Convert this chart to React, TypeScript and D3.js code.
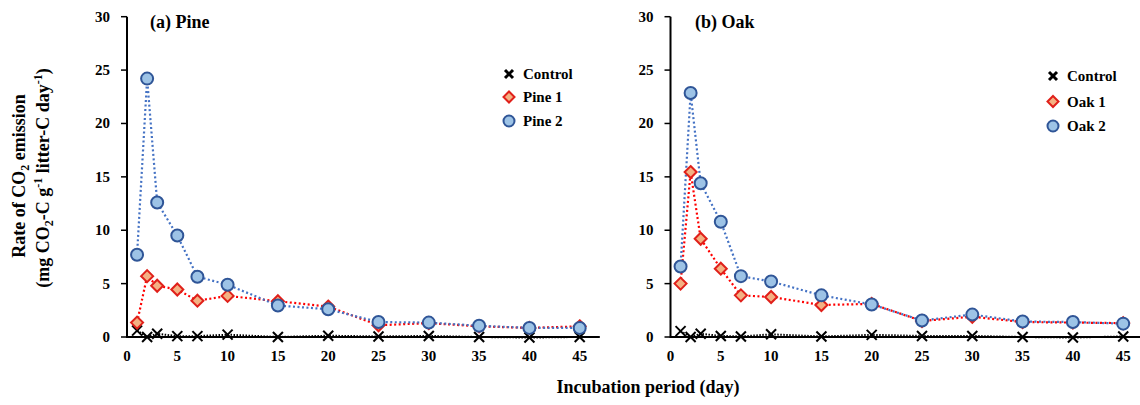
import React from "react";
import * as d3 from "d3";

const days = [1, 2, 3, 5, 7, 10, 15, 20, 25, 30, 35, 40, 45];
const pineControl = [0.6, 0.0, 0.3, 0.08, 0.08, 0.22, 0.0, 0.12, 0.05, 0.1, 0.0, -0.05, 0.0];
const pine1 = [1.35, 5.7, 4.8, 4.45, 3.4, 3.85, 3.35, 2.85, 1.1, 1.3, 1.0, 0.85, 1.0];
const pine2 = [7.7, 24.2, 12.6, 9.5, 5.65, 4.9, 2.95, 2.6, 1.4, 1.35, 1.05, 0.85, 0.85];
const oakControl = [0.55, 0.0, 0.3, 0.1, 0.05, 0.25, 0.05, 0.2, 0.1, 0.1, 0.0, -0.05, 0.05];
const oak1 = [5.0, 15.45, 9.2, 6.4, 3.9, 3.75, 3.0, 3.1, 1.5, 1.9, 1.4, 1.35, 1.3];
const oak2 = [6.6, 22.85, 14.4, 10.8, 5.7, 5.2, 3.9, 3.05, 1.55, 2.1, 1.45, 1.4, 1.25];
const xTicks = [0, 5, 10, 15, 20, 25, 30, 35, 40, 45];
const yTicks = [0, 5, 10, 15, 20, 25, 30];

const FONT = "'Liberation Serif', 'Times New Roman', serif";
const BLUE_LINE = "#4472C4";
const BLUE_FILL = "#9DC3E6";
const BLUE_STROKE = "#2F5597";
const RED_LINE = "#FF0000";
const RED_STROKE = "#E0201A";
const ORANGE_FILL = "#F4B183";

type PanelProps = {
  x0: number;
  title: string;
  titleX: number;
  control: number[];
  s1: number[];
  s2: number[];
  names: string[];
  legendX: number;
  legendY: number[];
};

function XMark({ cx, cy, s }: { cx: number; cy: number; s: number }) {
  return (
    <g stroke="#000" strokeWidth={2}>
      <line x1={cx - s} y1={cy - s} x2={cx + s} y2={cy + s} />
      <line x1={cx - s} y1={cy + s} x2={cx + s} y2={cy - s} />
    </g>
  );
}

function Diamond({ cx, cy, r }: { cx: number; cy: number; r: number }) {
  return (
    <path
      d={`M${cx},${cy - r}L${cx + r},${cy}L${cx},${cy + r}L${cx - r},${cy}Z`}
      fill={ORANGE_FILL}
      stroke={RED_STROKE}
      strokeWidth={2}
    />
  );
}

function Circle({ cx, cy, r }: { cx: number; cy: number; r: number }) {
  return <circle cx={cx} cy={cy} r={r} fill={BLUE_FILL} stroke={BLUE_STROKE} strokeWidth={2} />;
}

function Panel({ x0, title, titleX, control, s1, s2, names, legendX, legendY }: PanelProps) {
  const x = d3.scaleLinear().domain([0, 47]).range([x0, x0 + 47 * 10.06]);
  const y = d3.scaleLinear().domain([0, 30]).range([337, 16.7]);
  const line = (vals: number[]) =>
    d3
      .line<number>()
      .x((_, i) => x(days[i]))
      .y((v) => y(v))(vals) as string;

  return (
    <g fontFamily={FONT} fontWeight="bold">
      <line x1={x(0)} y1={y(0)} x2={x(47)} y2={y(0)} stroke="#000" strokeWidth={2} />
      <line x1={x(0)} y1={y(0) + 1} x2={x(0)} y2={y(30)} stroke="#000" strokeWidth={2} />
      {yTicks.map((t) => (
        <g key={"y" + t}>
          <line x1={x(0) - 6} y1={y(t)} x2={x(0)} y2={y(t)} stroke="#000" strokeWidth={1.5} />
          <text x={x(0) - 17} y={y(t) + 5} textAnchor="end" fontSize={15} fill="#000">
            {t}
          </text>
        </g>
      ))}
      {xTicks.map((t) => (
        <text key={"x" + t} x={x(t)} y={361} textAnchor="middle" fontSize={15} fill="#000">
          {t}
        </text>
      ))}
      <path d={line(control)} fill="none" stroke="#000" strokeWidth={2} strokeDasharray="1.5,1.5" />
      <path d={line(s1)} fill="none" stroke={RED_LINE} strokeWidth={2.2} strokeDasharray="2,2.5" />
      <path d={line(s2)} fill="none" stroke={BLUE_LINE} strokeWidth={2.2} strokeDasharray="2,2.5" />
      {control.map((v, i) => (
        <XMark key={"c" + i} cx={x(days[i])} cy={y(v)} s={5} />
      ))}
      {s1.map((v, i) => (
        <Diamond key={"d" + i} cx={x(days[i])} cy={y(v)} r={6} />
      ))}
      {s2.map((v, i) => (
        <Circle key={"o" + i} cx={x(days[i])} cy={y(v)} r={6} />
      ))}
      <text x={titleX} y={28} fontSize={18} fill="#000">
        {title}
      </text>
      <g>
        <g stroke="#000" strokeWidth={3}>
          <line x1={legendX - 4} y1={legendY[0] - 4} x2={legendX + 4} y2={legendY[0] + 4} />
          <line x1={legendX - 4} y1={legendY[0] + 4} x2={legendX + 4} y2={legendY[0] - 4} />
        </g>
        <Diamond cx={legendX} cy={legendY[1]} r={5.5} />
        <Circle cx={legendX} cy={legendY[2]} r={5.5} />
        {names.map((n, i) => (
          <text key={n} x={legendX + 14} y={legendY[i] + 5} fontSize={15} fill="#000">
            {n}
          </text>
        ))}
      </g>
    </g>
  );
}

export default function App() {
  return (
    <svg
      width={1140}
      height={405}
      style={{ position: "absolute", left: 0, top: 0, background: "#fff" }}
    >
      <rect width={1140} height={405} fill="#fff" />
      <Panel
        x0={127}
        title="(a) Pine"
        titleX={150}
        control={pineControl}
        s1={pine1}
        s2={pine2}
        names={["Control", "Pine 1", "Pine 2"]}
        legendX={509}
        legendY={[74, 97, 121]}
      />
      <Panel
        x0={670.5}
        title="(b) Oak"
        titleX={695}
        control={oakControl}
        s1={oak1}
        s2={oak2}
        names={["Control", "Oak 1", "Oak 2"]}
        legendX={1053}
        legendY={[76, 101.5, 126]}
      />
      <g fontFamily={FONT} fontWeight="bold" fontSize={18} fill="#000">
        <text transform="translate(25,176) rotate(-90)" textAnchor="middle">
          Rate of CO
          <tspan fontSize={12} dy={4}>2</tspan>
          <tspan dy={-4}> emission</tspan>
        </text>
        <text transform="translate(49,178) rotate(-90)" textAnchor="middle">
          (mg CO
          <tspan fontSize={12} dy={4}>2</tspan>
          <tspan dy={-4}>-C g</tspan>
          <tspan fontSize={12} dy={-7}>-1</tspan>
          <tspan dy={7}> litter-C day</tspan>
          <tspan fontSize={12} dy={-7}>-1</tspan>
          <tspan dy={7}>)</tspan>
        </text>
        <text x={648} y={393} textAnchor="middle">
          Incubation period (day)
        </text>
      </g>
    </svg>
  );
}
